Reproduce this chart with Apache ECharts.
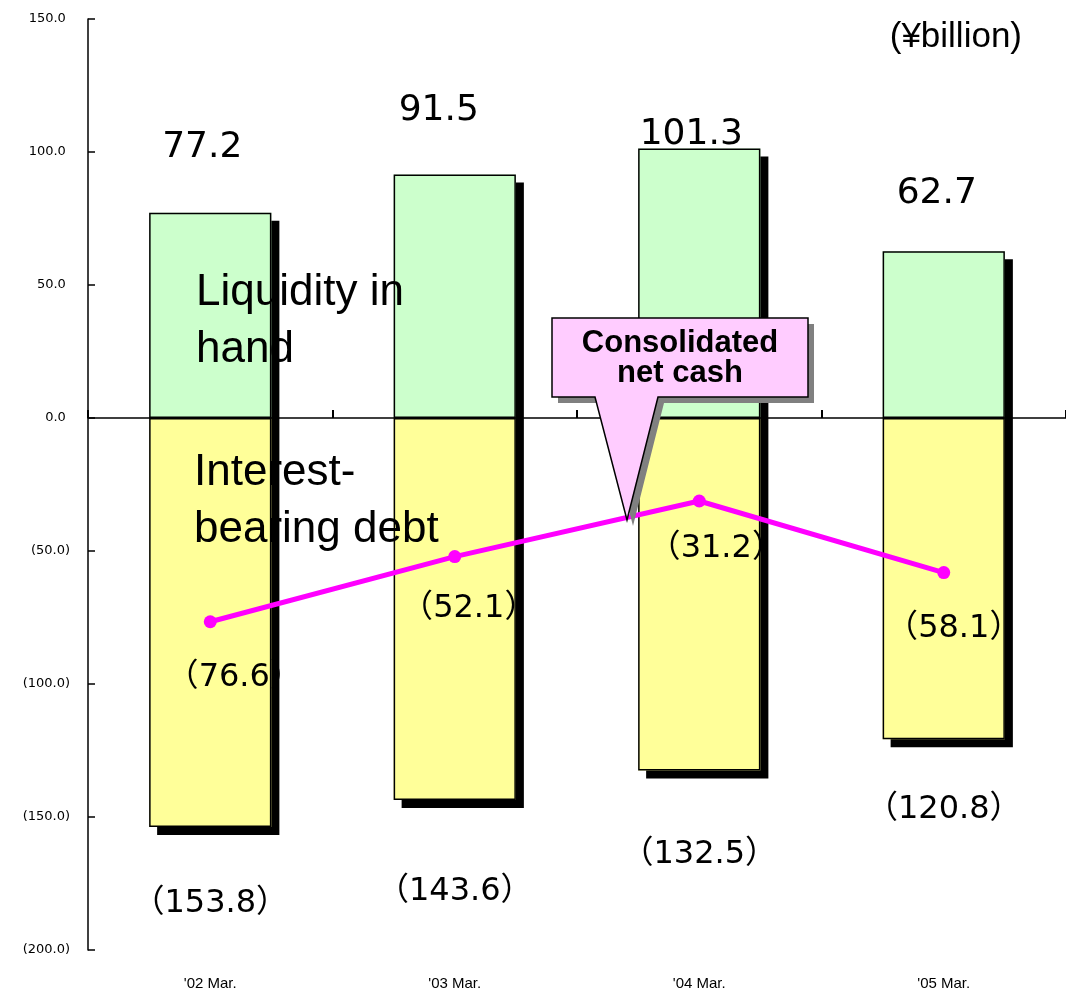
<!DOCTYPE html>
<html>
<head>
<meta charset="utf-8">
<script src="https://cdn.jsdelivr.net/npm/echarts@6/dist/echarts.min.js"></script>
<style>
  html, body { margin: 0; padding: 0; background: #fff; }
  #main { width: 1066px; height: 992px; }
</style>
</head>
<body>
<div id="main"></div>
<script>
var categories = ["'02 Mar.", "'03 Mar.", "'04 Mar.", "'05 Mar."];
var liquidity = [77.2, 91.5, 101.3, 62.7];
var debt = [-153.8, -143.6, -132.5, -120.8];
var netCash = [-76.6, -52.1, -31.2, -58.1];

var fontMain = 'Liberation Sans, Arial, Noto Sans CJK JP, sans-serif';
var fontNum = 'DejaVu Sans, Noto Sans CJK JP, sans-serif';

function paren(v) {
    return v < 0 ? '（' + Math.abs(v).toFixed(1) + '）' : v.toFixed(1);
}

const chart = echarts.init(document.getElementById('main'), null, {
    width: 1066,
    height: 992
});

// label nudges
var topShift = [[-8, -47], [-16, -46], [-8, 4], [-7, -40]];
var bottomShift = [[0, 61], [0, 76], [0, 68], [0, 54]];
var lineShift = [[24, 33], [14, 30], [17, 25], [10, 34]];

function shadowBar(values, color) {
    return {
        type: 'bar',
        barWidth: '50%',
        barGap: '-100%',
        silent: true,
        data: values,
        itemStyle: {
            color: color,
            borderWidth: 0,
            shadowColor: '#000',
            shadowBlur: 0,
            shadowOffsetX: 8,
            shadowOffsetY: 8
        }
    };
}

function outlineBar(name, values, color, pos, shift, fontSize) {
    return {
        name: name,
        type: 'bar',
        barWidth: '50%',
        barGap: '-100%',
        data: values.map(function (v, i) {
            return { value: v, label: { offset: shift[i] } };
        }),
        itemStyle: {
            color: color,
            borderColor: '#000',
            borderWidth: 1.5
        },
        label: {
            show: true,
            position: pos,
            distance: 0,
            fontSize: fontSize,
            color: '#000',
            fontFamily: fontNum,
            formatter: function (p) { return paren(p.value); }
        }
    };
}

var option = {
    backgroundColor: '#fff',
    animation: false,
    grid: {
        left: 88,
        right: 0,
        top: 19,
        bottom: 42,
        containLabel: false
    },
    xAxis: [{
        type: 'category',
        data: categories,
        z: 10,
        axisLine: { onZero: true, lineStyle: { color: '#000', width: 1.5 } },
        axisTick: { show: true, interval: 0, inside: true, length: 8, lineStyle: { color: '#000', width: 2 } },
        axisLabel: { show: false }
    }, {
        type: 'category',
        data: categories,
        position: 'bottom',
        axisLine: { show: false },
        axisTick: { show: false },
        axisLabel: {
            margin: 26,
            fontSize: 15,
            color: '#000',
            fontFamily: 'Liberation Sans Narrow, Liberation Sans, Arial, sans-serif'
        }
    }],
    yAxis: {
        type: 'value',
        min: -200,
        max: 150,
        interval: 50,
        splitLine: { show: false },
        axisLine: { show: true, lineStyle: { color: '#000', width: 1.5 } },
        axisTick: { show: true, inside: true, length: 7, lineStyle: { color: '#000', width: 1.5 } },
        axisLabel: {
            margin: 18,
            fontSize: 13,
            color: '#000',
            fontFamily: fontNum,
            formatter: function (v) {
                return v < 0 ? '(' + Math.abs(v).toFixed(1) + ')' : v.toFixed(1) + ' ';
            }
        }
    },
    series: [
        shadowBar(liquidity, '#CCFFCC'),
        shadowBar(debt, '#FFFF99'),
        outlineBar('Liquidity in hand', liquidity, '#CCFFCC', 'top', topShift, 36),
        outlineBar('Interest-bearing debt', debt, '#FFFF99', 'bottom', bottomShift, 32),
        {
            name: 'Consolidated net cash',
            type: 'line',
            data: netCash.map(function (v, i) {
                return { value: v, label: { offset: lineShift[i] } };
            }),
            symbol: 'circle',
            symbolSize: 13,
            z: 5,
            lineStyle: { color: '#FF00FF', width: 5 },
            itemStyle: { color: '#FF00FF' },
            label: {
                show: true,
                position: 'bottom',
                distance: 0,
                fontSize: 32,
                color: '#000',
                fontFamily: fontNum,
                formatter: function (p) { return paren(p.value); }
            }
        }
    ],
    graphic: [{
        type: 'text',
        left: 196,
        top: 264,
        z: 4,
        style: {
            text: 'Liquidity in\nhand',
            font: '44px ' + fontMain,
            lineHeight: 57,
            fill: '#000'
        }
    }, {
        type: 'text',
        left: 194,
        top: 444,
        z: 4,
        style: {
            text: 'Interest-\nbearing debt',
            font: '44px ' + fontMain,
            lineHeight: 57,
            fill: '#000'
        }
    }, {
        // callout shadow
        type: 'polygon',
        z: 19,
        shape: {
            points: [[552, 318], [808, 318], [808, 397], [658, 397], [627, 520], [595, 397], [552, 397]]
        },
        style: {
            fill: '#FFCCFF',
            shadowColor: '#808080',
            shadowBlur: 0,
            shadowOffsetX: 6,
            shadowOffsetY: 6
        }
    }, {
        type: 'polygon',
        z: 20,
        shape: {
            points: [[552, 318], [808, 318], [808, 397], [658, 397], [627, 520], [595, 397], [552, 397]]
        },
        style: {
            fill: '#FFCCFF',
            stroke: '#000',
            lineWidth: 1.5
        }
    }, {
        type: 'text',
        z: 21,
        x: 680,
        y: 358,
        style: {
            text: 'Consolidated\nnet cash',
            font: 'bold 31px ' + fontMain,
            lineHeight: 30,
            fill: '#000',
            align: 'center',
            verticalAlign: 'middle'
        }
    }, {
        type: 'text',
        right: 44,
        top: 20,
        style: {
            text: '(¥billion)',
            font: '35px ' + fontMain,
            fill: '#000'
        }
    }]
};

chart.setOption(option);
</script>
</body>
</html>
